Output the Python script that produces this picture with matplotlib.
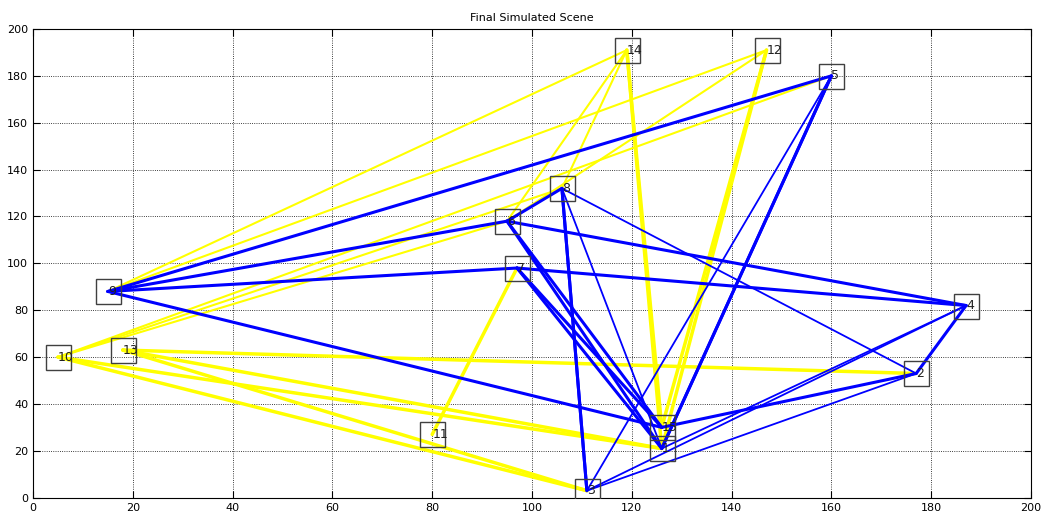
import numpy as np
import matplotlib.pyplot as plt

# node coordinates (label -> x, y)
node_ids = [1, 2, 3, 4, 5, 6, 7, 8, 9, 10, 11, 12, 13, 14, 15]
node_x = [126, 177, 111, 187, 160, 97, 95, 106, 15, 5, 80, 147, 18, 119, 126]
node_y = [21, 53, 3, 82, 180, 98, 118, 132, 88, 60, 27, 191, 63, 191, 30]
node_labels = ['1', '2', '3', '4', '5', '7', '6', '8', '9', '10', '11', '12', '13', '14', '15']

# routes of the two vehicle groups, as node-id pairs
blue_edges = [(9, 5), (9, 7), (9, 6), (6, 4), (9, 15), (7, 4), (7, 1), (6, 1),
              (8, 3), (8, 3), (7, 8), (7, 15), (1, 5), (1, 5), (15, 2),
              (2, 4), (6, 15)]
blue_thin = [(8, 2), (3, 4), (3, 2), (8, 1), (3, 5), (1, 4)]
yellow_edges = [(14, 1), (14, 15), (12, 1), (12, 15), (11, 6), (13, 2), (13, 1),
                (10, 1), (10, 3), (13, 3)]
yellow_thin = [(9, 14), (9, 12), (10, 5), (10, 8), (10, 7),
               (7, 14), (8, 14), (7, 12)]

pos = {n: (x, y) for n, x, y in zip(node_ids, node_x, node_y)}


def draw_edges(edges, color, lw, z):
    for a, b in edges:
        ax.plot([pos[a][0], pos[b][0]], [pos[a][1], pos[b][1]],
                color=color, lw=lw, zorder=z, solid_capstyle='round')


fig = plt.figure(figsize=(10.42, 5.15), dpi=100)
ax = fig.add_axes([0.0317, 0.0336, 0.9577, 0.9101])

draw_edges(yellow_thin, 'yellow', 1.5, 2)
draw_edges(yellow_edges, 'yellow', 2.5, 2)
draw_edges(blue_thin, 'blue', 1.3, 3)
draw_edges(blue_edges, 'blue', 2.2, 3)

ax.plot(node_x, node_y, 's', ms=18, mfc='none', mec='#404040', mew=1.0, zorder=4)
for x, y, lab in zip(node_x, node_y, node_labels):
    ax.text(x, y, lab, fontsize=9, ha='left', va='center', color='#202020', zorder=5)

ax.set_xlim(0, 200)
ax.set_ylim(0, 200)
ax.set_xticks(np.arange(0, 201, 20))
ax.set_yticks(np.arange(0, 201, 20))
ax.tick_params(direction='in', top=True, right=True, labelsize=8, length=5)
ax.grid(True, linestyle=':', color='black', linewidth=0.6)
ax.set_title('Final Simulated Scene', fontsize=8)

fig.savefig('out.png', dpi=100)
